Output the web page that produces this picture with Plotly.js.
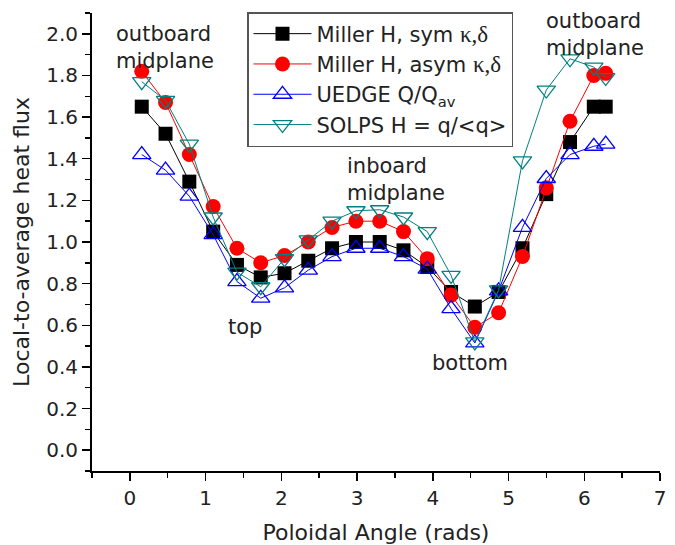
<!DOCTYPE html>
<html>
<head>
<meta charset="utf-8">
<script src="https://cdn.plot.ly/plotly-3.0.1.min.js"></script>
<style>html,body{margin:0;padding:0;background:#fff;}#chart{width:675px;height:545px;}</style>
</head>
<body>
<div id="chart"></div>
<script>
const angle = [0.157,0.471,0.785,1.100,1.414,1.728,2.042,2.356,2.670,2.985,3.299,3.613,3.927,4.241,4.555,4.869,5.184,5.498,5.812,6.126,6.283];
const millerSym  = [1.65,1.52,1.29,1.05,0.89,0.83,0.85,0.91,0.97,1.00,1.00,0.96,0.88,0.76,0.69,0.76,0.97,1.23,1.48,1.65,1.65];
const millerAsym = [1.82,1.67,1.42,1.17,0.97,0.90,0.935,1.00,1.07,1.10,1.10,1.05,0.92,0.745,0.59,0.66,0.93,1.26,1.58,1.80,1.81];
const uedge      = [1.42,1.345,1.22,1.035,0.81,0.73,0.78,0.865,0.93,0.97,0.97,0.93,0.87,0.68,0.515,0.765,1.07,1.305,1.42,1.46,1.47];
const solps      = [1.77,1.68,1.47,1.12,0.855,0.785,0.92,1.01,1.10,1.15,1.155,1.12,1.05,0.84,0.52,0.77,1.39,1.73,1.88,1.84,1.79];
const seriesNames = [
  'Miller H, sym <span style="font-family:\'Liberation Serif\',serif;font-size:23px">κ,δ</span>',
  'Miller H, asym <span style="font-family:\'Liberation Serif\',serif;font-size:23px">κ,δ</span>',
  'UEDGE Q/Q<sub>av</sub>',
  'SOLPS H = q/&lt;q&gt;'
];
const xTitle = 'Poloidal Angle (rads)';
const yTitle = 'Local-to-average heat flux';

const FONT = 'DejaVu Sans, Liberation Sans, Arial, sans-serif';
const TXT = '#222';

const traces = [
  {x: angle, y: millerSym, name: seriesNames[0], mode: 'lines+markers',
   line: {color: '#000000', width: 1}, marker: {symbol: 'square', size: 14, color: '#000000'}},
  {x: angle, y: millerAsym, name: seriesNames[1], mode: 'lines+markers',
   line: {color: '#ff0000', width: 1}, marker: {symbol: 'circle', size: 15, color: '#ff0000'}},
  {x: angle, y: uedge, name: seriesNames[2], mode: 'lines+markers',
   line: {color: '#0000ff', width: 1}, marker: {symbol: 'triangle-up-open', size: 16, color: '#0000ff', line: {width: 1.3}}},
  {x: angle, y: solps, name: seriesNames[3], mode: 'lines+markers',
   line: {color: '#008080', width: 1}, marker: {symbol: 'triangle-down-open', size: 16, color: '#008080', line: {width: 1.3}}}
];

const plotL = 92, plotR = 15, plotT = 13, plotB = 74, W = 675, H = 545;

const layout = {
  width: W, height: H,
  margin: {l: plotL, r: plotR, t: plotT, b: plotB},
  paper_bgcolor: '#fff', plot_bgcolor: '#fff',
  font: {family: FONT, size: 20, color: TXT},
  showlegend: true,
  legend: {
    x: (247 - plotL) / (W - plotL - plotR),
    y: 1 - (12 - plotT) / (H - plotT - plotB),
    xanchor: 'left', yanchor: 'top',
    bordercolor: '#555', borderwidth: 1.5, bgcolor: '#fff',
    font: {family: FONT, size: 21, color: TXT},
    itemwidth: 58, tracegroupgap: 0
  },
  xaxis: {
    range: [-0.5, 7], dtick: 1, tick0: 0,
    showgrid: false, zeroline: false,
    showline: true, linecolor: '#000', linewidth: 2,
    ticks: 'outside', ticklen: 8, tickwidth: 1.5, tickcolor: '#000',
    minor: {dtick: 0.5, tick0: 0, ticks: 'outside', ticklen: 5, tickwidth: 1.5, tickcolor: '#000'},
    tickfont: {family: FONT, size: 20, color: TXT},
    title: {text: xTitle, font: {family: FONT, size: 22, color: TXT}, standoff: 22}
  },
  yaxis: {
    range: [-0.1, 2.1], dtick: 0.2, tick0: 0, tickformat: '.1f',
    showgrid: false, zeroline: false,
    showline: true, linecolor: '#000', linewidth: 2,
    ticks: 'outside', ticklen: 8, tickwidth: 1.5, tickcolor: '#000',
    minor: {dtick: 0.1, tick0: 0, ticks: 'outside', ticklen: 5, tickwidth: 1.5, tickcolor: '#000'},
    tickfont: {family: FONT, size: 20, color: TXT},
    title: {text: yTitle, font: {family: FONT, size: 22, color: TXT}, standoff: 10}
  },
  annotations: [
    {text: 'outboard<br>midplane', x: 0.46, y: 1.935, xref: 'x', yref: 'y', showarrow: false, align: 'left', xanchor: 'center', font: {family: FONT, size: 21, color: TXT}},
    {text: 'outboard<br>midplane', x: 6.14, y: 1.995, xref: 'x', yref: 'y', showarrow: false, align: 'left', xanchor: 'center', font: {family: FONT, size: 21, color: TXT}},
    {text: 'inboard<br>midplane', x: 3.52, y: 1.30, xref: 'x', yref: 'y', showarrow: false, align: 'left', xanchor: 'center', font: {family: FONT, size: 21, color: TXT}},
    {text: 'top', x: 1.52, y: 0.59, xref: 'x', yref: 'y', showarrow: false, font: {family: FONT, size: 21, color: TXT}},
    {text: 'bottom', x: 4.49, y: 0.42, xref: 'x', yref: 'y', showarrow: false, font: {family: FONT, size: 21, color: TXT}}
  ]
};

Plotly.newPlot('chart', traces, layout, {displayModeBar: false, staticPlot: true});
</script>
</body>
</html>
